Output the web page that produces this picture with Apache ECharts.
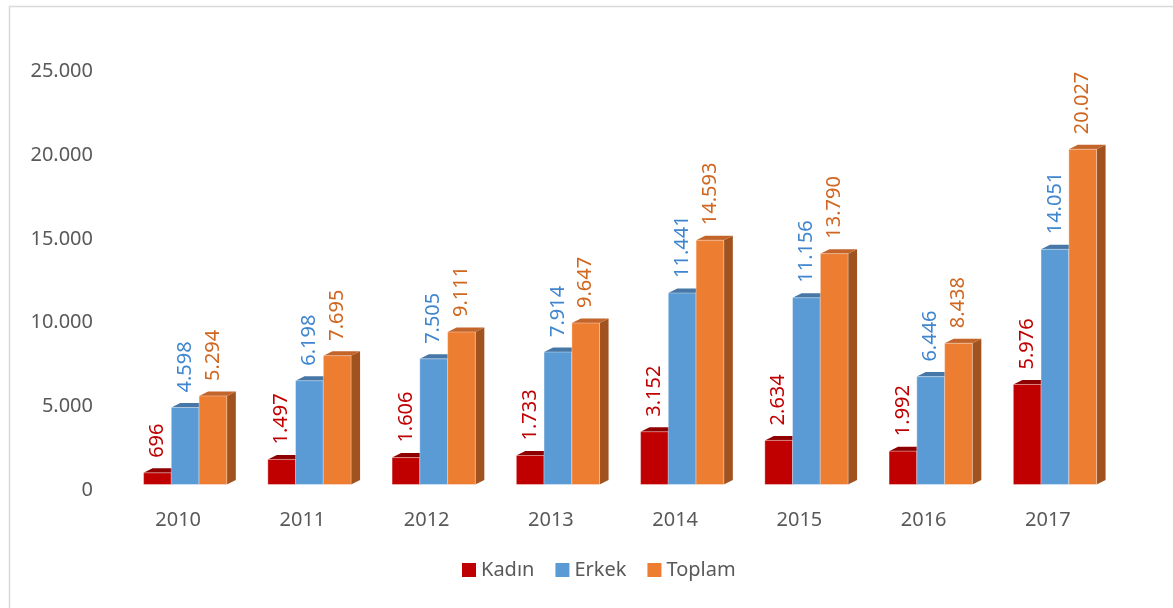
<!DOCTYPE html>
<html>
<head>
<meta charset="utf-8">
<script src="https://cdn.jsdelivr.net/npm/echarts@6/dist/echarts.min.js"></script>
<style>
  html, body { margin: 0; padding: 0; background: #fff; }
  #main { width: 1173px; height: 608px; }
</style>
</head>
<body>
<div id="main"></div>
<script>
var years = ['2010', '2011', '2012', '2013', '2014', '2015', '2016', '2017'];
var kadin = [696, 1497, 1606, 1733, 3152, 2634, 1992, 5976];
var erkek = [4598, 6198, 7505, 7914, 11441, 11156, 6446, 14051];
var toplam = [5294, 7695, 9111, 9647, 14593, 13790, 8438, 20027];
var yTicks = [0, 5000, 10000, 15000, 20000, 25000];

var chart = echarts.init(document.getElementById('main'));

// 1.234 style thousands
function fmt(v) {
    return String(v).replace(/\B(?=(\d{3})+(?!\d))/g, '.');
}

// front / top / side colours per series
var looks = [
    { front: '#C00000', top: '#8E0000', side: '#7A0000', label: '#C00000' },
    { front: '#5B9BD5', top: '#4677A6', side: '#3F6C97', label: '#3F86CF' },
    { front: '#ED7D31', top: '#C3652A', side: '#A0521F', label: '#D0661F' }
];
// left edge of the front face, as a share of the category band
var offs = [-0.278, -0.055, 0.169];
var widthShare = 0.223;
var DX = 9, DY = 4.5;

function makeRender(k) {
    return function (params, api) {
        var idx = api.value(0);
        var val = api.value(1);
        var base = api.coord([idx, 0]);
        var top = api.coord([idx, val]);
        var band = api.size([1, 0])[0];
        var w = band * widthShare;
        var x0 = base[0] + band * offs[k];
        var x1 = x0 + w;
        var y0 = base[1];
        var y1 = top[1];
        var c = looks[k];
        return {
            type: 'group',
            children: [
                {
                    type: 'polygon',
                    shape: { points: [[x1, y1], [x1 + DX, y1 - DY], [x1 + DX, y0 - DY], [x1, y0]] },
                    style: { fill: c.side }
                },
                {
                    type: 'polygon',
                    shape: { points: [[x0, y1], [x0 + DX, y1 - DY], [x1 + DX, y1 - DY], [x1, y1]] },
                    style: { fill: c.top }
                },
                {
                    type: 'rect',
                    shape: { x: x0, y: y1, width: w, height: y0 - y1 },
                    style: { fill: c.front, stroke: 'rgba(255,255,255,0.35)', lineWidth: 1 }
                },
                {
                    type: 'text',
                    x: x0 + w / 2,
                    y: y1 - 15,
                    rotation: Math.PI / 2,
                    style: {
                        text: fmt(val),
                        fill: c.label,
                        font: '20px "Noto Sans"',
                        align: 'left',
                        verticalAlign: 'middle'
                    }
                }
            ]
        };
    };
}

function toData(arr) {
    return arr.map(function (v, i) { return [i, v]; });
}

var names = ['Kadın', 'Erkek', 'Toplam'];
var sets = [kadin, erkek, toplam];
var series = [];
for (var k = 0; k < 3; k++) {
    series.push({
        name: names[k],
        type: 'custom',
        renderItem: makeRender(k),
        itemStyle: { color: looks[k].front },
        encode: { x: 0, y: 1 },
        data: toData(sets[k])
    });
}

var option = {
    animation: false,
    backgroundColor: '#fff',
    textStyle: { fontFamily: 'Noto Sans' },
    graphic: [{
        type: 'rect',
        left: 7,
        top: 4,
        shape: { width: 1200, height: 603 },
        style: { fill: 'none', stroke: '#D9D9D9', lineWidth: 1.5 }
    }],
    legend: {
        data: names,
        left: 457,
        top: 555,
        icon: 'rect',
        itemWidth: 14,
        itemHeight: 14,
        itemGap: 21,
        textStyle: { color: '#595959', fontSize: 20, fontFamily: 'Noto Sans' }
    },
    grid: { left: 116, right: 63, top: 66, bottom: 123.5 },
    xAxis: {
        type: 'category',
        data: years,
        axisLine: { show: false },
        axisTick: { show: false },
        axisLabel: { color: '#595959', fontSize: 20, margin: 26 }
    },
    yAxis: {
        type: 'value',
        min: 0,
        max: 25000,
        interval: 5000,
        axisLine: { show: false },
        axisTick: { show: false },
        splitLine: { show: false },
        axisLabel: {
            color: '#595959',
            fontSize: 20,
            margin: 23,
            verticalAlign: 'top',
            lineHeight: 11,
            formatter: function (v) { return yTicks.indexOf(v) >= 0 ? fmt(v) : ''; }
        }
    },
    series: series
};

chart.setOption(option);
</script>
</body>
</html>
